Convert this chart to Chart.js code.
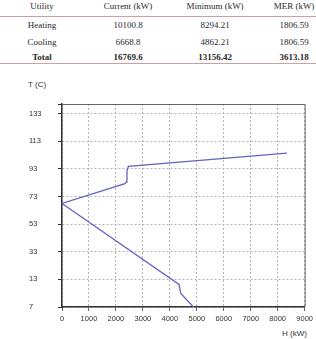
<!DOCTYPE html>
<html>
<head>
<meta charset="utf-8">
<script src="https://cdn.jsdelivr.net/npm/chart.js@4.4.0/dist/chart.umd.min.js"></script>
<style>
  body { margin: 0; background: #fff; }
  #wrap { position: relative; width: 316px; height: 339px; overflow: hidden; }
  .cell { position: absolute; font-family: "Liberation Serif", serif; font-size: 9px; color: #2a2a2a;
          transform: translate(-50%, -50%); white-space: nowrap; }
  .rule { position: absolute; left: 0; width: 316px; height: 1px; background: #c9a3a3; }
  .lbl { position: absolute; font-family: "Liberation Sans", Arial, sans-serif; font-size: 8px; color: #333; white-space: nowrap; }
  #chartBox { position: absolute; left: 0; top: 70px; width: 316px; height: 269px; }
</style>
</head>
<body>
<div id="wrap">
  <div class="rule" style="top:16px"></div>
  <div class="rule" style="top:63px"></div>
  <div class="lbl" style="left:28px; top:80px;">T (C)</div>
  <div class="lbl" style="right:9px; top:329px;">H (kW)</div>
  <div id="chartBox"><canvas id="grafico" width="316" height="269"></canvas></div>
</div>
<script>
// tabla de utilidades
const columnas = ['Utility', 'Current (kW)', 'Minimum (kW)', 'MER (kW)'];
const utilidades = ['Heating', 'Cooling', 'Total'];
const actual = ['10100.8', '6668.8', '16769.6'];
const minimo = ['8294.21', '4862.21', '13156.42'];
const mer = ['1806.59', '1806.59', '3613.18'];

// curvas compuestas
const calienteH = [0, 2334, 2385, 2410, 2464, 8340];
const calienteT = [68, 82.3, 83.5, 91.9, 94.8, 104.4];
const frioH = [0, 4341, 4406, 4874];
const frioT = [68, 9.4, 2.9, -7];

const ticksX = [0, 1000, 2000, 3000, 4000, 5000, 6000, 7000, 8000, 9000];
const ticksY = [-7, 13, 33, 53, 73, 93, 113, 133, 140];
const etiquetasY = ['7', '13', '33', '53', '73', '93', '113', '133', ''];

// armar tabla
const wrap = document.getElementById('wrap');
const colX = [42, 128, 215, 294];
const filaY = [6, 25, 41.5, 56.5];
function celda(texto, x, y, negrita) {
  let d = document.createElement('div');
  d.className = 'cell';
  d.textContent = texto;
  d.style.left = x + 'px';
  d.style.top = y + 'px';
  if (negrita) d.style.fontWeight = 'bold';
  wrap.appendChild(d);
}
columnas.forEach((c, i) => celda(c, colX[i], filaY[0], false));
for (let i = 0; i < utilidades.length; i++) {
  let b = utilidades[i] === 'Total';
  celda(utilidades[i], colX[0], filaY[i + 1], b);
  celda(actual[i], colX[1], filaY[i + 1], b);
  celda(minimo[i], colX[2], filaY[i + 1], b);
  celda(mer[i], colX[3], filaY[i + 1], b);
}

function puntos(xs, ys) {
  let out = [];
  for (let i = 0; i < xs.length; i++) out.push({ x: xs[i], y: ys[i] });
  return out;
}

// borde superior y derecho del grafico
const marco = {
  id: 'marco',
  afterDraw(chart) {
    const a = chart.chartArea, c = chart.ctx;
    c.save();
    c.strokeStyle = '#666';
    c.lineWidth = 1;
    c.setLineDash([]);
    c.beginPath();
    c.moveTo(a.left, a.top + 0.5);
    c.lineTo(a.right + 0.5, a.top + 0.5);
    c.lineTo(a.right + 0.5, a.bottom);
    c.stroke();
    c.restore();
  }
};

const fuente = { family: '"Liberation Sans", Arial, sans-serif', size: 7.5 };
const rejilla = { color: '#b4b4b4', tickColor: '#333', tickBorderDash: [1, 0], tickLength: 4 };
const eje = { color: '#333', width: 1.5, dash: [2, 2] };

new Chart(document.getElementById('grafico'), {
  type: 'scatter',
  data: {
    datasets: [
      { data: puntos(calienteH, calienteT), showLine: true, borderColor: '#6464c4', borderWidth: 1.3, pointRadius: 0, tension: 0 },
      { data: puntos(frioH, frioT), showLine: true, borderColor: '#6464c4', borderWidth: 1.3, pointRadius: 0, tension: 0 }
    ]
  },
  options: {
    responsive: false,
    animation: false,
    devicePixelRatio: 1,
    layout: { padding: { left: 29, right: 10, top: 34, bottom: 0 } },
    plugins: { legend: { display: false }, tooltip: { enabled: false } },
    scales: {
      x: {
        type: 'linear', min: 0, max: 9000,
        grid: rejilla,
        border: eje,
        afterBuildTicks: s => { s.ticks = ticksX.map(v => ({ value: v })); },
        afterFit: s => { s.height = 32; },
        ticks: { font: fuente, color: '#333', padding: 3, autoSkip: false, maxRotation: 0,
                 callback: v => String(v) }
      },
      y: {
        type: 'linear', min: -7, max: 140,
        grid: rejilla,
        border: eje,
        afterBuildTicks: s => { s.ticks = ticksY.map(v => ({ value: v })); },
        afterFit: s => { s.width = 33; },
        ticks: {
          font: fuente, color: '#333', crossAlign: 'far', autoSkip: false,
          callback: (v, i) => etiquetasY[i]
        }
      }
    }
  },
  plugins: [marco]
});
</script>
</body>
</html>
